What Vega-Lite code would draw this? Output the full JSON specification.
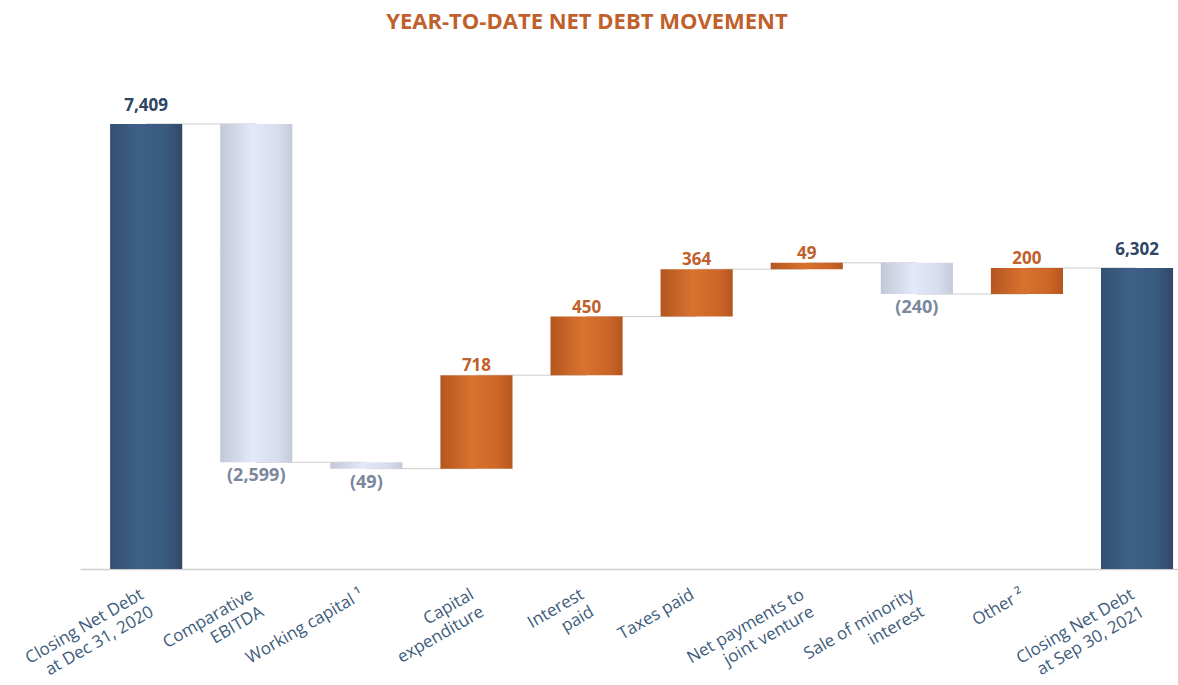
{
  "$schema": "https://vega.github.io/schema/vega-lite/v6.json",
  "autosize": "none",
  "width": 1098,
  "height": 509,
  "padding": {"left": 80, "top": 60, "right": 0, "bottom": 116},
  "background": "white",
  "config": {"view": {"stroke": null}},
  "title": {
    "text": "YEAR-TO-DATE NET DEBT MOVEMENT",
    "anchor": "middle",
    "color": "#C0602A",
    "font": "Open Sans",
    "fontWeight": "bold",
    "fontSize": 22,
    "dx": -42,
    "offset": 26
  },
  "data": {
    "values": [
      {"label": "Closing Net Debt|at Dec 31, 2020  ", "start": 0, "end": 7409, "type": "total", "next": "Comparative|EBITDA    ", "text": "7,409"},
      {"label": "Comparative|EBITDA    ", "start": 7409, "end": 4810, "type": "neg", "next": "Working capital ¹", "text": "(2,599)"},
      {"label": "Working capital ¹", "start": 4810, "end": 4761, "type": "neg", "next": "Capital    |expenditure", "text": "(49)"},
      {"label": "Capital    |expenditure", "start": 4761, "end": 5479, "type": "pos", "next": "Interest|paid   ", "text": "718"},
      {"label": "Interest|paid   ", "start": 5479, "end": 5929, "type": "pos", "next": "Taxes paid", "text": "450"},
      {"label": "Taxes paid", "start": 5929, "end": 6293, "type": "pos", "next": "Net payments to|joint venture   ", "text": "364"},
      {"label": "Net payments to|joint venture   ", "start": 6293, "end": 6342, "type": "pos", "next": "Sale of minority|interest       ", "text": "49"},
      {"label": "Sale of minority|interest       ", "start": 6342, "end": 6102, "type": "neg", "next": "Other ²", "text": "(240)"},
      {"label": "Other ²", "start": 6102, "end": 6302, "type": "pos", "next": "Closing Net Debt|at Sep 30, 2021  ", "text": "200"},
      {"label": "Closing Net Debt|at Sep 30, 2021  ", "start": 0, "end": 6302, "type": "total", "next": null, "text": "6,302"}
    ]
  },
  "encoding": {
    "x": {
      "field": "label",
      "type": "nominal",
      "sort": null,
      "scale": {"paddingInner": 0.345, "paddingOuter": 0.159, "align": 0.86},
      "axis": {
        "title": null,
        "labelExpr": "split(datum.label, '|')",
        "labelAngle": -30,
        "labelAlign": "right",
        "labelBaseline": "top",
        "labelPadding": 17,
        "labelOffset": -8,
        "labelFont": "Open Sans",
        "labelFontSize": 17,
        "labelLineHeight": 20,
        "labelColor": "#3E5C7C",
        "labelLimit": 400,
        "labelOverlap": false,
        "labelBound": false,
        "ticks": false,
        "domain": true,
        "domainColor": "#CFCFCF",
        "domainWidth": 1.5
      }
    }
  },
  "layer": [
    {
      "transform": [{"filter": "datum.next != null"}],
      "mark": {"type": "rule", "color": "#CCCCCC", "strokeWidth": 1},
      "encoding": {
        "x2": {"field": "next"},
        "y": {"field": "end", "type": "quantitative", "scale": {"domain": [3990, 7900], "clamp": true, "zero": false, "nice": false}, "axis": null}
      }
    },
    {
      "transform": [{"filter": "datum.type == 'total'"}],
      "mark": {"type": "bar", "fill": {"gradient": "linear", "x1": 0, "x2": 1, "y1": 0, "y2": 0, "stops": [{"offset": 0, "color": "#34506F"}, {"offset": 0.4, "color": "#3E6088"}, {"offset": 0.75, "color": "#3A5A80"}, {"offset": 1, "color": "#31496A"}]}},
      "encoding": {
        "y": {"field": "start", "type": "quantitative", "scale": {"domain": [3990, 7900], "clamp": true, "zero": false, "nice": false}, "axis": null},
        "y2": {"field": "end"}
      }
    },
    {
      "transform": [{"filter": "datum.type == 'neg'"}],
      "mark": {"type": "bar", "fill": {"gradient": "linear", "x1": 0, "x2": 1, "y1": 0, "y2": 0, "stops": [{"offset": 0, "color": "#C3C8D7"}, {"offset": 0.45, "color": "#E3E8FA"}, {"offset": 0.8, "color": "#D8DDEE"}, {"offset": 1, "color": "#C5CAD9"}]}},
      "encoding": {
        "y": {"field": "start", "type": "quantitative", "scale": {"domain": [3990, 7900], "clamp": true, "zero": false, "nice": false}, "axis": null},
        "y2": {"field": "end"}
      }
    },
    {
      "transform": [{"filter": "datum.type == 'pos'"}],
      "mark": {"type": "bar", "fill": {"gradient": "linear", "x1": 0, "x2": 1, "y1": 0, "y2": 0, "stops": [{"offset": 0, "color": "#B5561F"}, {"offset": 0.45, "color": "#D8722F"}, {"offset": 0.8, "color": "#CC6628"}, {"offset": 1, "color": "#B5561F"}]}},
      "encoding": {
        "y": {"field": "start", "type": "quantitative", "scale": {"domain": [3990, 7900], "clamp": true, "zero": false, "nice": false}, "axis": null},
        "y2": {"field": "end"}
      }
    },
    {
      "transform": [{"filter": "datum.type == 'total'"}],
      "mark": {"type": "text", "baseline": "alphabetic", "dy": -13, "font": "Open Sans", "fontWeight": "bold", "fontSize": 17, "color": "#2E4566"},
      "encoding": {
        "y": {"field": "end", "type": "quantitative", "scale": {"domain": [3990, 7900], "clamp": true, "zero": false, "nice": false}, "axis": null},
        "text": {"field": "text"}
      }
    },
    {
      "transform": [{"filter": "datum.type == 'pos'"}],
      "mark": {"type": "text", "baseline": "alphabetic", "dy": -4, "font": "Open Sans", "fontWeight": "bold", "fontSize": 17, "color": "#C0602A"},
      "encoding": {
        "y": {"field": "end", "type": "quantitative", "scale": {"domain": [3990, 7900], "clamp": true, "zero": false, "nice": false}, "axis": null},
        "text": {"field": "text"}
      }
    },
    {
      "transform": [{"filter": "datum.type == 'neg'"}],
      "mark": {"type": "text", "baseline": "top", "dy": 5, "font": "Open Sans", "fontWeight": "bold", "fontSize": 18, "color": "#7A879C"},
      "encoding": {
        "y": {"field": "end", "type": "quantitative", "scale": {"domain": [3990, 7900], "clamp": true, "zero": false, "nice": false}, "axis": null},
        "text": {"field": "text"}
      }
    }
  ]
}
